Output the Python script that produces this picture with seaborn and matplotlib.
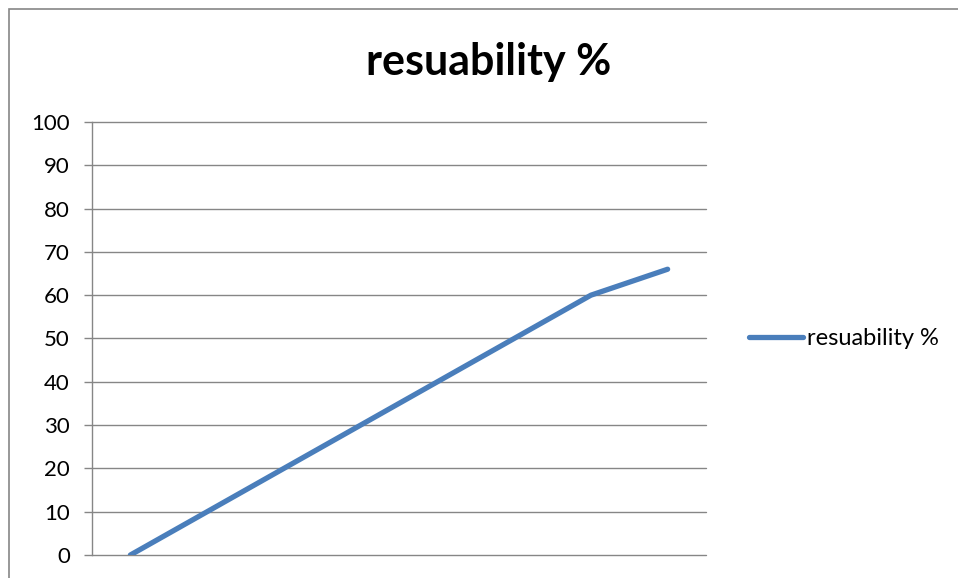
import pandas as pd
import numpy as np
import matplotlib
matplotlib.use('Agg')
import matplotlib.pyplot as plt
import seaborn as sns
from matplotlib.patches import Rectangle

# data
stages = [1, 2, 3, 4, 5, 6, 7, 8]
reusability = [0, 10, 20, 30, 40, 50, 60, 66]
y_ticks = [0, 10, 20, 30, 40, 50, 60, 70, 80, 90, 100]

sns.set_theme(style='white')
plt.rcParams['font.family'] = ['Lato', 'DejaVu Sans']
plt.rcParams['text.color'] = 'black'

df = pd.DataFrame({'pos': np.arange(len(stages)), 'value': reusability})

fig = plt.figure(figsize=(9.58, 5.78), dpi=100)
ax = fig.add_axes([92/958, 23/578, (706-92)/958, (555-122)/578])

# gridlines
for v in y_ticks:
    ax.axhline(v, color='#868686', lw=1.0, zorder=1, clip_on=False)

sns.lineplot(data=df, x='pos', y='value', ax=ax, color='#4A7EBB', lw=3.8,
             label='resuability %', zorder=3, solid_capstyle='round')

ax.set_xlim(-0.5, len(stages) - 0.5)
ax.set_ylim(0, 100)
ax.set_yticks(y_ticks)
ax.set_yticklabels([str(v) for v in y_ticks], fontsize=16)
ax.set_xticks([])
ax.set_xlabel('')
ax.set_ylabel('')
ax.tick_params(axis='y', which='both', left=True, length=6, width=1,
               color='#868686', pad=10, labelcolor='black')
for s in ['top', 'right', 'bottom']:
    ax.spines[s].set_visible(False)
ax.spines['left'].set_color('#868686')
ax.spines['left'].set_linewidth(1)

leg = ax.legend(loc='center left', bbox_to_anchor=(1.035, 0.5), frameon=False,
                fontsize=17, handlelength=2.3, handletextpad=0.15)
for t in leg.get_texts():
    t.set_color('black')

fig.text(489/958, 1 - 62/578, 'resuability %', ha='center', va='center',
         fontsize=31, fontweight='bold', color='black')

# chart frame
fig.patches.append(Rectangle((9/958, -0.1), 1.0, 1 - 9/578 + 0.1,
                             transform=fig.transFigure, fill=False,
                             edgecolor='#868686', lw=1.2))

fig.savefig('out.png', dpi=100)
